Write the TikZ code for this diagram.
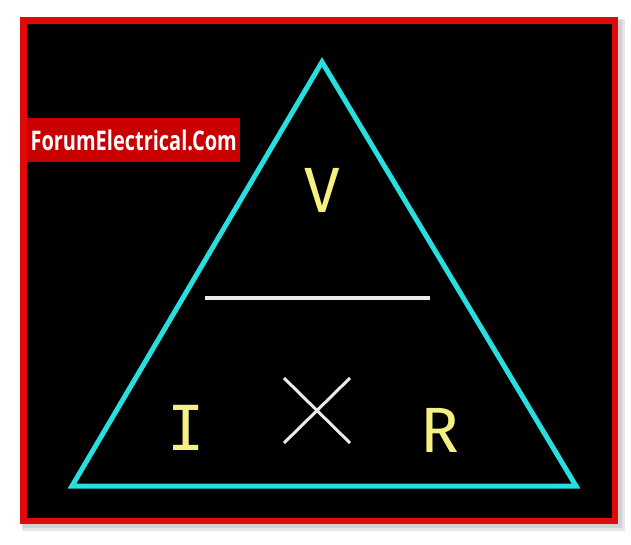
\documentclass[tikz,border=0pt]{standalone}
\usepackage{fontspec}
\setmainfont{Fira Sans}
\newfontfamily\wmfont{Open Sans}
\newfontfamily\letfont{Fira Sans}
\newfontfamily\ifont{DejaVu Sans Mono}
\begin{document}
\begin{tikzpicture}[x=1pt,y=-1pt,
  tri/.style={draw=triCyan,line width=5pt,line join=miter},
  letter/.style={text=letYellow,font=\letfont\fontsize{64}{70}\selectfont,inner sep=0pt},
  whiteline/.style={draw=lineWhite,line width=4pt},
  wmbox/.style={fill=wmRed,text=white,inner sep=0pt,minimum width=213pt,minimum height=44pt,font=\wmfont\bfseries\fontsize{27}{29}\selectfont}]
\definecolor{triCyan}{RGB}{40,222,222}
\definecolor{letYellow}{RGB}{245,240,130}
\definecolor{lineWhite}{RGB}{235,235,235}
\definecolor{wmRed}{RGB}{200,0,0}
\definecolor{frameRed}{RGB}{225,10,10}
\useasboundingbox (0,0) rectangle (631,545);
\fill[white] (0,0) rectangle (631,545);
% shadow
\fill[black!10] (22,19) rectangle (625,531);
\fill[black!18] (23,20) rectangle (622,528);
% frame
\fill[frameRed] (20,17) rectangle (618,524);
\fill[black] (27,24) rectangle (612,518);
% triangle
\coordinate (A) at (322,62);
\coordinate (B) at (72,486);
\coordinate (C) at (576,486);
\draw[tri] (A) -- (B) -- (C) -- cycle;
% watermark
\node[wmbox,anchor=north west] (wm) at (27,118) {\scalebox{0.74}[1]{ForumElectrical.Com}};
% letters
\node[letter] (V) at (322,190) {V};
\coordinate (L1) at (205,298);
\coordinate (L2) at (430,298);
\draw[whiteline] (L1) -- (L2);
\node[letter,font=\ifont\fontsize{62}{68}\selectfont] (I) at (186,428) {I};
\node[letter] (R) at (440,430) {R};
\coordinate (X1) at (284,378);
\coordinate (X2) at (350,443);
\coordinate (X3) at (350,378);
\coordinate (X4) at (284,443);
\draw[whiteline,line width=3pt] (X1) -- (X2);
\draw[whiteline,line width=3pt] (X3) -- (X4);
\end{tikzpicture}
\end{document}
